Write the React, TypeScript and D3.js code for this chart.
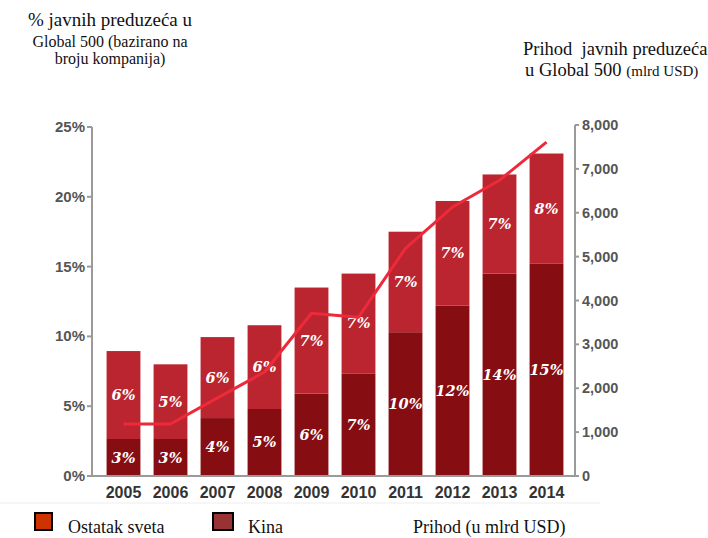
import React from "react";
import * as d3 from "d3";

const years = ["2005", "2006", "2007", "2008", "2009", "2010", "2011", "2012", "2013", "2014"];
const chinaShare = [2.65, 2.65, 4.15, 4.8, 5.9, 7.35, 10.3, 12.2, 14.5, 15.2];
const restShare = [6.3, 5.35, 5.8, 6.0, 7.6, 7.15, 7.2, 7.5, 7.1, 7.9];
const chinaLabels = ["3%", "3%", "4%", "5%", "6%", "7%", "10%", "12%", "14%", "15%"];
const restLabels = ["6%", "5%", "6%", "6%", "7%", "7%", "7%", "7%", "7%", "8%"];
const revenue = [1185, 1185, 1780, 2370, 3710, 3620, 5190, 6130, 6740, 7610];
const leftTicks = [0, 5, 10, 15, 20, 25];
const rightTicks = [0, 1000, 2000, 3000, 4000, 5000, 6000, 7000, 8000];

export default function App() {
  const W = 708, H = 538;
  const x = d3.scaleBand<string>().domain(years).range([100, 570]).paddingInner(0.28).paddingOuter(0.14);
  const yL = d3.scaleLinear().domain([0, 25]).range([476, 127]);
  const yR = d3.scaleLinear().domain([0, 8000]).range([476, 125]);
  const line = d3.line<number>()
    .x((_, i) => (x(years[i]) as number) + x.bandwidth() / 2)
    .y((d) => yR(d));
  const fmt = d3.format(",");
  const axisColor = "#9a9a9a";
  const tickFont = "'Liberation Sans', Arial, sans-serif";
  const serif = "'Liberation Serif', 'Times New Roman', serif";
  const labelFont = "'DejaVu Serif', Georgia, serif";

  return (
    <svg width={W} height={H} style={{ position: "absolute", left: 0, top: 0, background: "#fff" }}>
      {/* titles */}
      <text x={110} y={26} textAnchor="middle" fontFamily={serif} fontSize={19} fill="#111">% javnih preduzeća u</text>
      <text x={110} y={47} textAnchor="middle" fontFamily={serif} fontSize={16} fill="#111">Global 500 (bazirano na</text>
      <text x={110} y={64} textAnchor="middle" fontFamily={serif} fontSize={16} fill="#111">broju kompanija)</text>
      <text x={523} y={55} fontFamily={serif} fontSize={18.5} fill="#111" style={{ whiteSpace: "pre" }}>Prihod  javnih preduzeća</text>
      <text x={525} y={76} fontFamily={serif} fontSize={18.5} fill="#111">
        u Global 500 <tspan fontSize={15}>(mlrd USD)</tspan>
      </text>

      {/* bars */}
      {years.map((yr, i) => {
        const bx = x(yr) as number;
        const bw = x.bandwidth();
        const c0 = yL(0), c1 = yL(chinaShare[i]);
        const r1 = yL(chinaShare[i] + restShare[i]);
        return (
          <g key={yr}>
            <rect x={bx} y={c1} width={bw} height={c0 - c1} fill="#860d12" />
            <rect x={bx} y={r1} width={bw} height={c1 - r1} fill="#ba252f" />
            <text x={bx + bw / 2} y={(c0 + c1) / 2 + 5} textAnchor="middle" fontFamily={labelFont}
              fontStyle="italic" fontWeight="bold" fontSize={14.5} fill="#fff">{chinaLabels[i]}</text>
            <text x={bx + bw / 2} y={(c1 + r1) / 2 + 5} textAnchor="middle" fontFamily={labelFont}
              fontStyle="italic" fontWeight="bold" fontSize={14.5} fill="#fff">{restLabels[i]}</text>
          </g>
        );
      })}

      {/* revenue line */}
      <path d={line(revenue) || ""} fill="none" stroke="#ee2a3a" strokeWidth={3} strokeLinejoin="round" />

      {/* left axis */}
      <line x1={92} x2={92} y1={yL(25)} y2={yL(0)} stroke={axisColor} strokeWidth={2} />
      {leftTicks.map((t) => (
        <g key={t}>
          <line x1={87} x2={92} y1={yL(t)} y2={yL(t)} stroke={axisColor} strokeWidth={2} />
          <text x={85} y={yL(t) + 5} textAnchor="end" fontFamily={tickFont} fontWeight="bold" fontSize={15} fill="#555">{t}%</text>
        </g>
      ))}

      {/* baseline */}
      <line x1={87} x2={576} y1={476} y2={476} stroke={axisColor} strokeWidth={2} />

      {/* right axis */}
      <line x1={575} x2={575} y1={yR(8000)} y2={yR(0)} stroke={axisColor} strokeWidth={2} />
      {rightTicks.map((t) => (
        <g key={t}>
          <line x1={575} x2={579} y1={yR(t)} y2={yR(t)} stroke={axisColor} strokeWidth={2} />
          <text x={582} y={yR(t) + 5} fontFamily={tickFont} fontWeight="bold" fontSize={14.5} fill="#555">{fmt(t)}</text>
        </g>
      ))}

      {/* x labels */}
      {years.map((yr) => (
        <text key={yr} x={(x(yr) as number) + x.bandwidth() / 2} y={498} textAnchor="middle"
          fontFamily={tickFont} fontWeight="bold" fontSize={16} fill="#333">{yr}</text>
      ))}

      <line x1={0} x2={600} y1={503} y2={503} stroke="#ededed" strokeWidth={1} />

      {/* legend */}
      <rect x={35} y={513} width={17} height={17} fill="#cc3300" stroke="#000" strokeWidth={2} />
      <text x={68} y={533} fontFamily={serif} fontSize={18} fill="#111">Ostatak sveta</text>
      <rect x={213} y={513} width={20} height={17} fill="#993333" stroke="#000" strokeWidth={2} />
      <text x={248} y={533} fontFamily={serif} fontSize={18} fill="#111">Kina</text>
      <text x={413} y={533} fontFamily={serif} fontSize={18} fill="#111">Prihod (u mlrd USD)</text>
    </svg>
  );
}
